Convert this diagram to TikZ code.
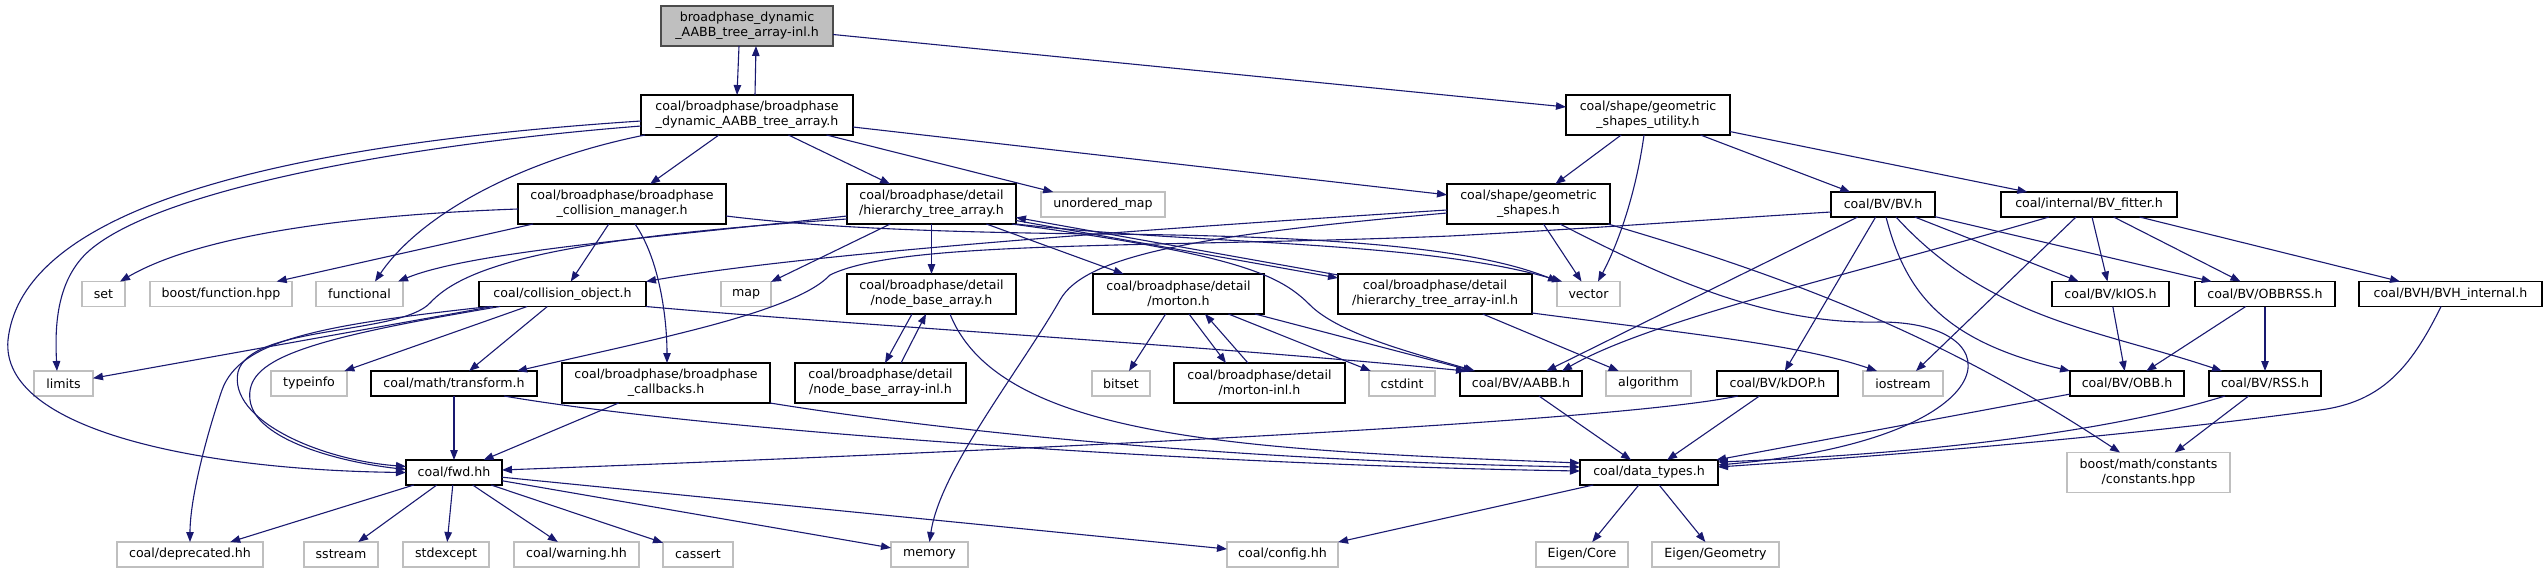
\documentclass[tikz,border=0pt]{standalone}
\usepackage{fontspec}
\setmainfont{DejaVu Sans}
\usetikzlibrary{arrows.meta,calc}
\definecolor{edgec}{HTML}{191970}
\definecolor{lgray}{HTML}{BFBFBF}
\begin{document}
\begin{tikzpicture}[x=1pt,y=-1pt,
 base/.style={rectangle, inner sep=0pt, outer sep=0pt, align=center, minimum height=25pt,
   font=\fontsize{12.6}{15}\selectfont, text=black},
 dbox/.style={base, draw=black, line width=1.3pt, fill=white},
 gbox/.style={base, draw=lgray, line width=1.3pt, fill=white},
 rootbox/.style={base, draw=black!70, line width=1.3pt, fill=lgray},
 tall/.style={minimum height=40pt},
 dep/.style={draw=edgec, line width=1.1pt, -{Triangle[length=10pt,width=7.5pt]}}
]
\useasboundingbox (0,0) rectangle (2544,573);
% ---------- nodes ----------
\node[rootbox,tall,minimum width=172pt] (root) at (747,26) {broadphase\_dynamic\\\_AABB\_tree\_array-inl.h};
\node[dbox,tall,minimum width=212pt] (dyn) at (747,115) {coal/broadphase/broadphase\\\_dynamic\_AABB\_tree\_array.h};
\node[dbox,tall,minimum width=164pt] (gsu) at (1648,115) {coal/shape/geometric\\\_shapes\_utility.h};
\node[dbox,tall,minimum width=208pt] (cm) at (622,204) {coal/broadphase/broadphase\\\_collision\_manager.h};
\node[dbox,tall,minimum width=169pt] (hta) at (931.5,204) {coal/broadphase/detail\\/hierarchy\_tree\_array.h};
\node[gbox,minimum width=124pt] (umap) at (1103,204.5) {unordered\_map};
\node[dbox,tall,minimum width=163pt] (gs) at (1528.5,204) {coal/shape/geometric\\\_shapes.h};
\node[dbox,minimum width=104pt] (bv) at (1883,204.5) {coal/BV/BV.h};
\node[dbox,minimum width=176pt] (bvf) at (2089,204.5) {coal/internal/BV\_fitter.h};
\node[gbox,minimum width=43pt] (set) at (103.5,294) {set};
\node[gbox,minimum width=142pt] (bfun) at (221,294) {boost/function.hpp};
\node[gbox,minimum width=87pt] (functional) at (359.5,294) {functional};
\node[dbox,minimum width=167pt] (co) at (562.5,294) {coal/collision\_object.h};
\node[gbox,minimum width=50pt] (map) at (746,294) {map};
\node[dbox,tall,minimum width=169pt] (nba) at (931.5,294) {coal/broadphase/detail\\/node\_base\_array.h};
\node[dbox,tall,minimum width=171pt] (morton) at (1178.5,294) {coal/broadphase/detail\\/morton.h};
\node[dbox,tall,minimum width=194pt] (htai) at (1435,294) {coal/broadphase/detail\\/hierarchy\_tree\_array-inl.h};
\node[gbox,minimum width=63pt] (vector) at (1588.5,294) {vector};
\node[dbox,minimum width=117pt] (kios) at (2110.5,294) {coal/BV/kIOS.h};
\node[dbox,minimum width=140pt] (obbrss) at (2265,294) {coal/BV/OBBRSS.h};
\node[dbox,minimum width=183pt] (bvhi) at (2450.5,294) {coal/BVH/BVH\_internal.h};
\node[gbox,minimum width=59pt] (limits) at (63.5,383.5) {limits};
\node[gbox,minimum width=76pt] (typeinfo) at (309,383.5) {typeinfo};
\node[dbox,minimum width=166pt] (transform) at (454,383.5) {coal/math/transform.h};
\node[dbox,tall,minimum width=208pt] (callbacks) at (666,383) {coal/broadphase/broadphase\\\_callbacks.h};
\node[dbox,tall,minimum width=171pt] (nbai) at (880.5,383) {coal/broadphase/detail\\/node\_base\_array-inl.h};
\node[gbox,minimum width=58pt] (bitset) at (1121,383.5) {bitset};
\node[dbox,tall,minimum width=171pt] (mortoni) at (1259.5,383) {coal/broadphase/detail\\/morton-inl.h};
\node[gbox,minimum width=66pt] (cstdint) at (1402,383.5) {cstdint};
\node[dbox,minimum width=122pt] (aabb) at (1521,383.5) {coal/BV/AABB.h};
\node[gbox,minimum width=85pt] (algorithm) at (1648.5,383.5) {algorithm};
\node[dbox,minimum width=121pt] (kdop) at (1777.5,383.5) {coal/BV/kDOP.h};
\node[gbox,minimum width=80pt] (iostream) at (1903,383.5) {iostream};
\node[dbox,minimum width=114pt] (obb) at (2127,383.5) {coal/BV/OBB.h};
\node[dbox,minimum width=112pt] (rss) at (2265,383.5) {coal/BV/RSS.h};
\node[dbox,minimum width=96pt] (fwd) at (454,472.5) {coal/fwd.hh};
\node[dbox,minimum width=138pt] (dt) at (1649,472.5) {coal/data\_types.h};
\node[gbox,tall,minimum width=163pt] (boostc) at (2148.5,472.5) {boost/math/constants\\/constants.hpp};
\node[gbox,minimum width=146pt] (deprecated) at (190,554.5) {coal/deprecated.hh};
\node[gbox,minimum width=74pt] (sstream) at (341,554.5) {sstream};
\node[gbox,minimum width=86pt] (stdexcept) at (446,554.5) {stdexcept};
\node[gbox,minimum width=125pt] (warning) at (576.5,554.5) {coal/warning.hh};
\node[gbox,minimum width=70pt] (cassert) at (698,554.5) {cassert};
\node[gbox,minimum width=77pt] (memory) at (929.5,554.5) {memory};
\node[gbox,minimum width=111pt] (config) at (1282.5,554.5) {coal/config.hh};
\node[gbox,minimum width=92pt] (eigcore) at (1582,554.5) {Eigen/Core};
\node[gbox,minimum width=127pt] (eiggeo) at (1715.5,554.5) {Eigen/Geometry};
% ---------- edges ----------
% root
\draw[dep] ([xshift=-8pt]root.south) -- ([xshift=-10pt]dyn.north);
\draw[dep] ([xshift=8pt]dyn.north) -- ([xshift=9pt]root.south);
\draw[dep] (root) -- (gsu);
% dyn
\draw[dep] (dyn) -- (cm);
\draw[dep] (dyn) -- (hta);
\draw[dep] (dyn) -- (umap);
\draw[dep] (dyn) -- (gs);
\draw[dep] ([xshift=4pt]dyn.south west) .. controls (520,160) and (420,215) .. ([xshift=15.5pt]functional.north);
\draw[dep] ([yshift=-11pt]dyn.west) .. controls (400,145) and (160,190) .. (90,250) .. controls (55,280) and (55,330) .. ([xshift=-6.5pt]limits.north);
\draw[dep] ([yshift=-6pt]dyn.west) .. controls (200,150) and (20,230) .. (8,340) .. controls (0,430) and (200,470) .. (fwd.west);
% gsu
\draw[dep] (gsu) -- (gs);
\draw[dep] ([xshift=-4pt]gsu.south) .. controls (1635,200) and (1615,250) .. ([xshift=9.5pt]vector.north);
\draw[dep] (gsu) -- (bv);
\draw[dep] (gsu) -- (bvf);
% collision manager
\draw[dep] ([yshift=-5pt]cm.west) .. controls (350,215) and (200,235) .. ([xshift=-5pt]set.north east);
\draw[dep] (cm) -- (bfun);
\draw[dep] (cm) -- (co);
\draw[dep] ([xshift=13pt]cm.south) .. controls (660,260) and (667,320) .. ([xshift=1pt]callbacks.north);
\draw[dep] ([yshift=-12pt]cm.east) .. controls (800,225) and (900,232) .. (1100,234) .. controls (1350,236) and (1480,250) .. ([xshift=1pt]vector.north west);
% hierarchy tree array
\draw[dep] ([yshift=-12pt]hta.west) .. controls (650,238) and (470,252) .. ([xshift=-5pt]functional.north east);
\draw[dep] ([yshift=-15pt]hta.west) .. controls (560,238) and (465,265) .. (430,303) .. controls (400,335) and (250,325) .. (238,372) .. controls (228,420) and (320,460) .. ([yshift=6pt]fwd.west);
\draw[dep] (hta) -- (map);
\draw[dep] (hta) -- (nba);
\draw[dep] (hta) -- (morton);
\draw[dep] ([yshift=-16.5pt]hta.east) -- ([yshift=16pt]htai.west);
\draw[dep] ([yshift=19pt]htai.west) -- ([yshift=-13.5pt]hta.east);
\draw[dep] (hta.south east) .. controls (1200,245) and (1420,240) .. ([xshift=5pt]vector.north west);
\draw[dep] ([xshift=-4pt]hta.south east) .. controls (1240,255) and (1280,275) .. (1310,305) .. controls (1340,335) and (1420,355) .. ([xshift=15pt]aabb.north west);
% geometric shapes
\draw[dep] ([yshift=-6pt]gs.west) .. controls (1100,232) and (800,255) .. (co.north east);
\draw[dep] ([yshift=-9pt]gs.west) .. controls (1200,235) and (1085,255) .. (1060,300) .. controls (1020,370) and (940,470) .. (memory.north);
\draw[dep] ([xshift=15pt]gs.south) -- ([xshift=-7pt]vector.north);
\draw[dep] ([xshift=31.5pt]gs.south) .. controls (1650,270) and (1760,325) .. (1880,322) .. controls (2020,322) and (2010,440) .. ([yshift=7.5pt]dt.east);
\draw[dep] ([xshift=-2pt]gs.south east) .. controls (1800,280) and (1950,340) .. ([xshift=-28.5pt]boostc.north);
% BV.h
\draw[dep] ([yshift=-7.5pt]bv.west) .. controls (1700,220) and (1600,228) .. (1450,236) .. controls (1150,248) and (900,240) .. (830,275) .. controls (795,312) and (660,338) .. ([xshift=-20pt]transform.north east);
\draw[dep] (bv) -- (aabb);
\draw[dep] (bv) -- (kdop);
\draw[dep] ([xshift=3pt]bv.south) .. controls (1905,290) and (1940,340) .. (obb.north west);
\draw[dep] ([xshift=13pt]bv.south) .. controls (1990,320) and (2100,330) .. ([xshift=13pt]rss.north west);
\draw[dep] (bv) -- (kios);
\draw[dep] (bv) -- (obbrss);
% BV fitter
\draw[dep] ([xshift=-40pt]bvf.south) .. controls (1850,275) and (1650,320) .. ([xshift=-20pt]aabb.north east);
\draw[dep] (bvf) -- (iostream);
\draw[dep] (bvf) -- (kios);
\draw[dep] (bvf) -- (obbrss);
\draw[dep] (bvf) -- (bvhi);
% BV family
\draw[dep] (kios) -- (obb);
\draw[dep] (obbrss) -- (obb);
\draw[dep] (obbrss) -- (rss);
\draw[dep] ([xshift=-9.5pt]bvhi.south) .. controls (2410,370) and (2380,402) .. (2320,410) .. controls (2100,440) and (1850,458) .. ([yshift=5.5pt]dt.east);
\draw[dep] (obb) -- (dt);
\draw[dep] ([xshift=16pt]rss.south west) .. controls (2100,435) and (1900,455) .. ([yshift=10.5pt]dt.east);
\draw[dep] (rss) -- (boostc);
\draw[dep] (kdop) -- (dt);
\draw[dep] ([xshift=21pt]kdop.south west) .. controls (1600,425) and (900,455) .. ([yshift=2.5pt]fwd.east);
\draw[dep] (aabb) -- (dt);
% data types
\draw[dep] (dt) -- (config);
\draw[dep] (dt) -- (eigcore);
\draw[dep] (dt) -- (eiggeo);
% collision object
\draw[dep] (co) -- (limits);
\draw[dep] (co) -- (typeinfo);
\draw[dep] (co) -- (transform);
\draw[dep] (co.south east) .. controls (850,325) and (1200,345) .. ([xshift=6pt]aabb.north west);
\draw[dep] ([xshift=-72.5pt]co.south) .. controls (320,325) and (240,340) .. (222,390) .. controls (205,440) and (190,500) .. (deprecated.north);
\draw[dep] ([xshift=-62.5pt]co.south) .. controls (300,340) and (245,360) .. (250,400) .. controls (255,440) and (340,462) .. ([yshift=3pt]fwd.west);
% transform, callbacks
\draw[dep] (transform) -- (fwd);
\draw[dep] ([xshift=50pt]transform.south) .. controls (700,430) and (1200,465) .. ([yshift=1.5pt]dt.west);
\draw[dep] (callbacks) -- (fwd);
\draw[dep] (callbacks.south east) .. controls (1000,440) and (1300,462) .. ([yshift=5.5pt]dt.west);
% node base array
\draw[dep] ([xshift=-19.5pt]nba.south) -- ([xshift=4.5pt]nbai.north);
\draw[dep] ([xshift=20.5pt]nbai.north) -- ([xshift=-5.5pt]nba.south);
\draw[dep] ([xshift=18.5pt]nba.south) .. controls (1000,440) and (1250,450) .. ([yshift=9.5pt]dt.west);
% morton
\draw[dep] (morton) -- (bitset);
\draw[dep] ([xshift=10.5pt]morton.south) -- ([xshift=-33.5pt]mortoni.north);
\draw[dep] ([xshift=-11.5pt]mortoni.north) -- ([xshift=26.5pt]morton.south);
\draw[dep] (morton) -- (cstdint);
\draw[dep] (morton) -- (aabb);
% hierarchy tree array inl
\draw[dep] (htai) -- (algorithm);
\draw[dep] ([yshift=-19pt]htai.east) .. controls (1700,335) and (1800,345) .. ([xshift=14pt]iostream.north west);
% fwd
\draw[dep] (fwd) -- (deprecated);
\draw[dep] (fwd) -- (sstream);
\draw[dep] (fwd) -- (stdexcept);
\draw[dep] (fwd) -- (warning);
\draw[dep] (fwd) -- (cassert);
\draw[dep] (fwd) -- (config);
\draw[dep] (fwd) -- (memory);
\end{tikzpicture}
\end{document}
